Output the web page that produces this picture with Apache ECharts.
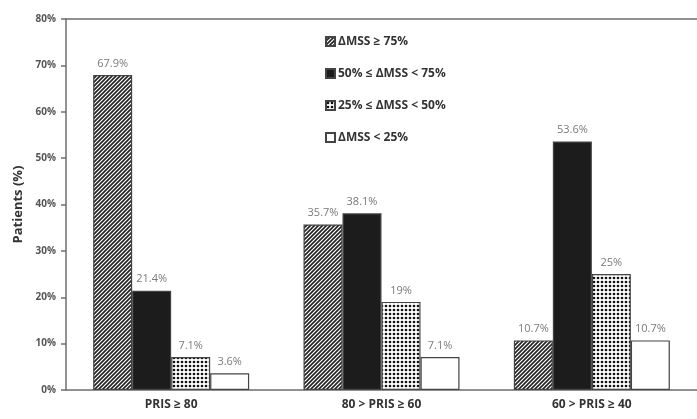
<!DOCTYPE html>
<html>
<head>
<meta charset="utf-8">
<script src="https://cdn.jsdelivr.net/npm/echarts@6/dist/echarts.min.js"></script>
<style>
  html, body { margin: 0; padding: 0; background: #fff; }
  #chart { width: 697px; height: 419px; }
</style>
</head>
<body>
<div id="chart"></div>
<script>
// Response groups by PRIS band
const categories = ['PRIS \u2265 80', '80 > PRIS \u2265 60', '60 > PRIS \u2265 40'];
const seriesNames = [
  '\u0394MSS \u2265 75%',
  '50% \u2264 \u0394MSS < 75%',
  '25% \u2264 \u0394MSS < 50%',
  '\u0394MSS < 25%'
];
const mssHigh = [67.9, 35.7, 10.7];
const mssMidHigh = [21.4, 38.1, 53.6];
const mssMidLow = [7.1, 19, 25];
const mssLow = [3.6, 7.1, 10.7];
const yTicks = [0, 10, 20, 30, 40, 50, 60, 70, 80];

// Fill patterns for the bars
function hatchPattern() {
  const c = document.createElement('canvas');
  c.width = 4; c.height = 4;
  const g = c.getContext('2d');
  g.fillStyle = '#fff';
  g.fillRect(0, 0, 4, 4);
  g.strokeStyle = '#222';
  g.lineWidth = 1.6;
  g.beginPath();
  g.moveTo(-1, 5); g.lineTo(5, -1);
  g.moveTo(-1, 1); g.lineTo(1, -1);
  g.moveTo(3, 5); g.lineTo(5, 3);
  g.stroke();
  return c;
}
function dotPattern() {
  const c = document.createElement('canvas');
  c.width = 4; c.height = 4;
  const g = c.getContext('2d');
  g.fillStyle = '#fff';
  g.fillRect(0, 0, 4, 4);
  g.fillStyle = '#111';
  g.beginPath();
  g.arc(2, 2, 1.35, 0, Math.PI * 2);
  g.fill();
  return c;
}

const fills = [
  { image: hatchPattern(), repeat: 'repeat' },
  '#1c1c1c',
  { image: dotPattern(), repeat: 'repeat' },
  '#ffffff'
];
const values = [mssHigh, mssMidHigh, mssMidLow, mssLow];

const chart = echarts.init(document.getElementById('chart'), null, { renderer: 'canvas' });

const series = values.map((data, i) => ({
  name: seriesNames[i],
  type: 'bar',
  data: data,
  barWidth: 39,
  barGap: '0%',
  itemStyle: { color: fills[i], borderColor: '#444', borderWidth: 1.2 },
  label: {
    show: true,
    position: 'top',
    distance: 6,
    formatter: p => p.value + '%',
    color: '#7a7a7a',
    fontFamily: 'Open Sans',
    fontSize: 11
  }
}));

chart.setOption({
  animation: false,
  backgroundColor: '#fff',
  grid: { left: 66, top: 19, width: 642, height: 371 },
  legend: {
    orient: 'vertical',
    left: 320,
    top: 28,
    itemWidth: 9,
    itemHeight: 9,
    itemGap: 15,
    icon: 'rect',
    textStyle: { fontFamily: 'Open Sans', fontWeight: 'bold', fontSize: 12, color: '#333', padding: [0, 0, 0, -2], lineHeight: 17 },
    data: seriesNames
  },
  xAxis: [
    {
      type: 'category',
      data: categories,
      axisLine: { lineStyle: { color: '#6e6e6e', width: 1.5 } },
      axisTick: { show: false },
      axisLabel: { fontFamily: 'Open Sans', fontWeight: 'bold', fontSize: 12, color: '#333', margin: 9 }
    },
    {
      type: 'category',
      position: 'top',
      data: categories,
      axisLine: { show: true, lineStyle: { color: '#6e6e6e', width: 1.5 } },
      axisTick: { show: false },
      axisLabel: { show: false }
    }
  ],
  yAxis: {
    type: 'value',
    min: yTicks[0],
    max: yTicks[yTicks.length - 1],
    interval: 10,
    name: 'Patients (%)',
    nameLocation: 'middle',
    nameGap: 36,
    nameTextStyle: { fontFamily: 'Open Sans', fontWeight: 'bold', fontSize: 13, color: '#333' },
    axisLine: { show: true, lineStyle: { color: '#6e6e6e', width: 1.5 } },
    axisTick: { show: true, length: 5, lineStyle: { color: '#6e6e6e', width: 1.5 } },
    axisLabel: {
      formatter: v => v + '%',
      fontFamily: 'Open Sans',
      fontWeight: 'bold',
      fontSize: 10,
      color: '#555',
      margin: 10
    },
    splitLine: { show: false }
  },
  series: series
});
</script>
</body>
</html>
